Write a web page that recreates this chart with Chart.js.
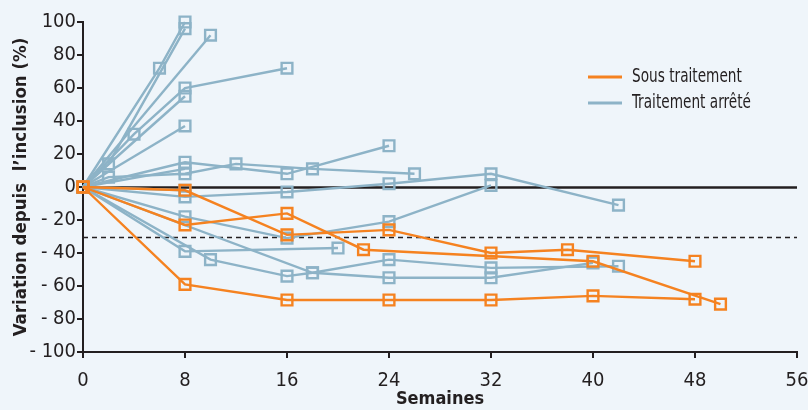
<!DOCTYPE html>
<html>
<head>
<meta charset="utf-8">
<script src="https://cdn.jsdelivr.net/npm/chart.js@4.4.0/dist/chart.umd.min.js"></script>
<style>
  html, body { margin: 0; padding: 0; background: #eff5fa; }
  #wrap { width: 808px; height: 410px; position: relative; }
</style>
</head>
<body>
<div id="wrap"><canvas id="spider"></canvas></div>
<script>
// semaines / variation (%) par patient
const sousWeeks = [
  [0, 8, 16, 24, 32, 38, 48],
  [0, 8, 16, 22, 40, 50],
  [0, 8, 16, 24, 32, 40, 48],
];
const sousValues = [
  [0, -2, -29, -26, -40, -38, -45],
  [0, -23, -16, -38, -45, -71],
  [0, -59, -68.5, -68.5, -68.5, -66, -68],
];

const arretWeeks = [
  [0, 6, 8],
  [0, 2, 8],
  [0, 10],
  [0, 4, 8, 16],
  [0, 8],
  [0, 8],
  [0, 8, 16, 24],
  [0, 2, 8, 12, 18, 26],
  [0, 8],
  [0, 8, 16, 24, 32, 42],
  [0, 8],
  [0, 8, 16, 24, 32],
  [0, 8, 20],
  [0, 10, 16, 18, 24, 32, 42],
  [0, 18, 24, 32, 40],
];
const arretValues = [
  [0, 72, 100],
  [0, 14, 96],
  [0, 92],
  [0, 32, 60, 72],
  [0, 55],
  [0, 37],
  [0, 15, 8, 25],
  [0, 6, 8, 14, 11, 8],
  [0, 11],
  [0, -6, -3, 2, 8, -11],
  [0, -2],
  [0, -18, -31, -21, 1],
  [0, -39, -37],
  [0, -44, -54, -52, -44, -49, -48],
  [0, -52, -55, -55, -46],
];

const refLines = [0, -30]; // ligne zéro + seuil -30 %
const legendLabels = ['Sous traitement', 'Traitement arrêté'];

const ORANGE = '#f58220';
const BLUE = '#8db3c7';
const INK = '#231f20';
const BG = '#eff5fa';
const FONT = '"DejaVu Sans Condensed", "Liberation Sans", sans-serif';

function makeSet(weeks, values, color) {
  return {
    data: weeks.map((w, i) => ({ x: w, y: values[i] })),
    borderColor: color,
    backgroundColor: 'rgba(0,0,0,0)',
    borderWidth: 2.4,
    pointStyle: 'rect',
    pointRadius: 7.6,
    pointBorderWidth: 2.4,
    pointBorderColor: color,
    pointBackgroundColor: 'rgba(0,0,0,0)',
    tension: 0,
    clip: false,
  };
}

const datasets = [
  ...sousWeeks.map((w, i) => makeSet(w, sousValues[i], ORANGE)),
  ...arretWeeks.map((w, i) => makeSet(w, arretValues[i], BLUE)),
];

const background = {
  id: 'background',
  beforeDraw(chart) {
    const { ctx, width, height } = chart;
    ctx.save();
    ctx.fillStyle = BG;
    ctx.fillRect(0, 0, width, height);
    ctx.restore();
  },
};

const references = {
  id: 'references',
  beforeDatasetsDraw(chart) {
    const { ctx, chartArea, scales } = chart;
    ctx.save();
    refLines.forEach((v, i) => {
      const y = Math.round(scales.y.getPixelForValue(v)) + 0.5;
      ctx.beginPath();
      ctx.strokeStyle = INK;
      if (i === 0) {
        ctx.lineWidth = 2.5;
        ctx.setLineDash([]);
      } else {
        ctx.lineWidth = 1.3;
        ctx.setLineDash([5, 4]);
      }
      ctx.moveTo(chartArea.left, y);
      ctx.lineTo(chartArea.right, y);
      ctx.stroke();
    });
    ctx.restore();
  },
};

// légende dessinée dans la zone du graphique, texte un peu resserré
const legendBox = {
  id: 'legendBox',
  afterDraw(chart) {
    const { ctx } = chart;
    const colors = [ORANGE, BLUE];
    ctx.save();
    ctx.font = '19px ' + FONT;
    ctx.textBaseline = 'middle';
    legendLabels.forEach((txt, i) => {
      const y = 77 + i * 26;
      ctx.strokeStyle = colors[i];
      ctx.lineWidth = 3;
      ctx.beginPath();
      ctx.moveTo(588, y);
      ctx.lineTo(622, y);
      ctx.stroke();
      ctx.save();
      ctx.translate(632, y);
      ctx.scale(0.8, 1);
      ctx.fillStyle = INK;
      ctx.fillText(txt, 0, 0);
      ctx.restore();
    });
    ctx.restore();
  },
};

new Chart(document.getElementById('spider'), {
  type: 'line',
  data: { datasets },
  plugins: [background, references, legendBox],
  options: {
    responsive: true,
    maintainAspectRatio: false,
    animation: false,
    layout: { padding: { top: 22, right: 0, left: 4, bottom: 0 } },
    plugins: {
      legend: { display: false },
      tooltip: { enabled: false },
    },
    scales: {
      x: {
        type: 'linear',
        min: 0,
        max: 56,
        afterFit: (s) => { s.height = 58; s.paddingRight = 11; },
        ticks: {
          stepSize: 8,
          color: INK,
          font: { family: FONT, size: 20 },
          padding: 11,
        },
        grid: {
          drawOnChartArea: false,
          color: INK,
          lineWidth: 2,
          tickLength: 6,
        },
        border: { color: INK, width: 2 },
        title: {
          display: true,
          text: 'Semaines',
          color: INK,
          font: { family: FONT, size: 18, weight: 'bold' },
          padding: { top: 0, bottom: 0 },
        },
      },
      y: {
        min: -100,
        max: 100,
        afterFit: (s) => { s.width = 79; },
        ticks: {
          stepSize: 20,
          color: INK,
          font: { family: FONT, size: 20 },
          padding: 1,
          callback: (v) => (v < 0 ? '- ' + Math.abs(v) : v),
        },
        grid: {
          drawOnChartArea: false,
          color: INK,
          lineWidth: 2,
          tickLength: 6,
        },
        border: { color: INK, width: 2 },
        title: {
          display: true,
          text: 'Variation depuis  l’inclusion (%)',
          color: INK,
          font: { family: FONT, size: 18.5, weight: 'bold' },
          padding: { top: 6, bottom: 0 },
        },
      },
    },
  },
});
</script>
</body>
</html>
